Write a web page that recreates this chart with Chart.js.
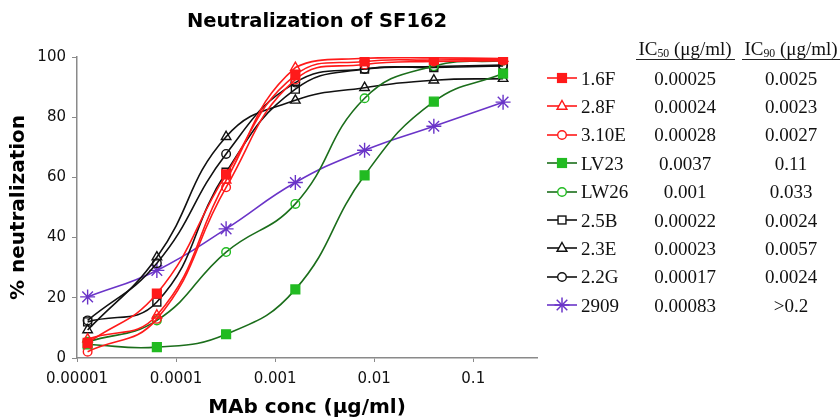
<!DOCTYPE html>
<html>
<head>
<meta charset="utf-8">
<script src="https://cdn.jsdelivr.net/npm/chart.js@4"></script>
<style>
  html, body { margin: 0; padding: 0; background: #fff; }
  #wrap { position: relative; width: 840px; height: 417px; overflow: hidden; }
  #c { position: absolute; left: 0; top: 0; }
  .title { position: absolute; left: 117px; width: 400px; text-align: center; top: 11px;
           font: bold 19.5px "DejaVu Sans", Verdana, sans-serif; line-height: 1; color: #000; white-space: nowrap; }
  .tx { position: absolute; font-family: "Liberation Serif", "Times New Roman", serif; font-size: 19px;
        line-height: 19px; height: 19px; color: #111; white-space: nowrap; }
  .cen { text-align: center; }
  .uline { position: absolute; height: 1.5px; background: #222; }
  sub { font-size: 0.62em; vertical-align: -0.15em; line-height: 0; }
</style>
</head>
<body>
<div id="wrap">
  <canvas id="c" width="634" height="417"></canvas>
  <div class="title">Neutralization of SF162</div>
  <div id="table"></div>
</div>
<script>
// ---- data ----
const concentrations = [0.0000128, 0.000064, 0.00032, 0.0016, 0.008, 0.04, 0.2];
const seriesNames = ["1.6F", "2.8F", "3.10E", "LV23", "LW26", "2.5B", "2.3E", "2.2G", "2909"];
const s16F  = [5.0, 21.4, 61.0, 94.0, 98.5, 99.0, 99.3];
const s28F  = [6.3, 14.2, 59.0, 96.5, 99.6, 99.7, 99.5];
const s310E = [2.1, 13.0, 56.7, 92.5, 97.5, 98.5, 98.8];
const sLV23 = [4.5, 3.6, 7.9, 22.8, 60.7, 85.2, 94.5];
const sLW26 = [5.4, 12.5, 35.2, 51.2, 86.3, 97.0, 98.8];
const s25B  = [12.0, 18.6, 61.7, 89.3, 96.0, 96.5, 97.0];
const s23E  = [9.3, 33.5, 73.5, 85.6, 89.8, 92.3, 92.8];
const s22G  = [12.5, 31.5, 67.8, 91.5, 96.0, 96.8, 97.3];
const s2909 = [20.3, 29.1, 42.9, 58.3, 69.0, 77.0, 85.0];
const ic50 = ["0.00025", "0.00024", "0.00028", "0.0037", "0.001", "0.00022", "0.00023", "0.00017", "0.00083"];
const ic90 = ["0.0025", "0.0023", "0.0027", "0.11", "0.033", "0.0024", "0.0057", "0.0024", ">0.2"];
const xTickValues = [0.00001, 0.0001, 0.001, 0.01, 0.1];
const xTickLabels = ["0.00001", "0.0001", "0.001", "0.01", "0.1"];
const yTickValues = [0, 20, 40, 60, 80, 100];

// ---- styles ----
const RED = "#ff1a1a", BLK = "#111111", DGREEN = "#1b6e1b", LGREEN = "#22bb22", PURP = "#6a34c8";
const styles = [
  { line: RED, mk: RED, fill: RED, shape: "rect", r: 6.2 },
  { line: RED, mk: RED, fill: "rgba(0,0,0,0)", shape: "triangle", r: 5.5 },
  { line: RED, mk: RED, fill: "rgba(0,0,0,0)", shape: "circle", r: 4.3 },
  { line: DGREEN, mk: LGREEN, fill: LGREEN, shape: "rect", r: 6.2 },
  { line: DGREEN, mk: LGREEN, fill: "rgba(0,0,0,0)", shape: "circle", r: 4.3 },
  { line: BLK, mk: BLK, fill: "rgba(0,0,0,0)", shape: "rect", r: 5.6 },
  { line: BLK, mk: BLK, fill: "rgba(0,0,0,0)", shape: "triangle", r: 5.5 },
  { line: BLK, mk: BLK, fill: "rgba(0,0,0,0)", shape: "circle", r: 4.3 },
  { line: PURP, mk: PURP, fill: PURP, shape: "star", r: 7.5 }
];
const allSeries = [s16F, s28F, s310E, sLV23, sLW26, s25B, s23E, s22G, s2909];

const datasets = allSeries.map((vals, i) => ({
  label: seriesNames[i],
  data: vals.map((v, j) => ({ x: concentrations[j], y: v })),
  borderColor: styles[i].line,
  borderWidth: 1.6,
  tension: 0.45,
  pointStyle: styles[i].shape,
  pointRadius: styles[i].r,
  pointBorderColor: styles[i].mk,
  pointBackgroundColor: styles[i].fill,
  pointBorderWidth: 1.4,
  fill: false
}));

const AX = "#8a8a8a";
new Chart(document.getElementById("c"), {
  type: "line",
  data: { datasets },
  options: {
    responsive: false,
    animation: false,
    layout: { padding: { top: 57, right: 97, left: 0, bottom: 0 } },
    plugins: { legend: { display: false }, title: { display: false }, tooltip: { enabled: false } },
    scales: {
      x: {
        type: "logarithmic",
        min: 0.00001,
        max: 0.44,
        afterBuildTicks: s => { s.ticks = xTickValues.map(v => ({ value: v })); },
        afterFit: s => { s.height = 59; },
        ticks: {
          callback: (v, i) => xTickLabels[i],
          font: { family: "DejaVu Sans", size: 15 },
          color: "#111",
          padding: 8,
          maxRotation: 0,
          autoSkip: false
        },
        grid: { drawOnChartArea: false, drawTicks: true, tickLength: 4, color: AX },
        border: { color: AX, width: 1.5 },
        title: {
          display: true,
          text: "MAb conc (μg/ml)",
          font: { family: "DejaVu Sans", size: 20, weight: "bold" },
          color: "#000",
          padding: { top: 0, bottom: -3 }
        }
      },
      y: {
        min: 0,
        max: 100,
        afterBuildTicks: s => { s.ticks = yTickValues.map(v => ({ value: v })); },
        afterFit: s => { s.width = 77; },
        ticks: {
          font: { family: "DejaVu Sans", size: 15 },
          color: "#111",
          padding: 6
        },
        grid: { drawOnChartArea: false, drawTicks: true, tickLength: 5, color: AX },
        border: { color: AX, width: 1.5 },
        title: {
          display: true,
          text: "% neutralization",
          font: { family: "DejaVu Sans", size: 20, weight: "bold" },
          color: "#000",
          padding: { top: 7, bottom: 0 }
        }
      }
    }
  }
});

// ---- table / legend ----
const table = document.getElementById("table");
function addDiv(cls, html, css) {
  const d = document.createElement("div");
  d.className = cls;
  d.innerHTML = html;
  Object.assign(d.style, css);
  table.appendChild(d);
  return d;
}
addDiv("tx cen", "IC<sub>50</sub> (μg/ml)", { left: "630px", width: "110px", top: (48 - 9.5) + "px" });
addDiv("tx cen", "IC<sub>90</sub> (μg/ml)", { left: "736px", width: "110px", top: (48 - 9.5) + "px" });
addDiv("uline", "", { left: "636px", width: "99px", top: "58.5px" });
addDiv("uline", "", { left: "742px", width: "98px", top: "58.5px" });

function markerSVG(st) {
  const cx = 15, cy = 8;
  let m = "";
  const fill = st.fill.startsWith("rgba") ? "none" : st.fill;
  if (st.shape === "rect") {
    const h = st.r * Math.SQRT1_2;
    m = `<rect x="${cx - h}" y="${cy - h}" width="${2 * h}" height="${2 * h}" fill="${fill === "none" ? "#fff" : fill}" stroke="${st.mk}" stroke-width="1.4"/>`;
  } else if (st.shape === "circle") {
    m = `<circle cx="${cx}" cy="${cy}" r="${st.r}" fill="#fff" stroke="${st.mk}" stroke-width="1.4"/>`;
  } else if (st.shape === "triangle") {
    const r = st.r;
    m = `<polygon points="${cx},${cy - r} ${cx + r * 0.9},${cy + r * 0.6} ${cx - r * 0.9},${cy + r * 0.6}" fill="#fff" stroke="${st.mk}" stroke-width="1.4"/>`;
  } else if (st.shape === "star") {
    const r = st.r, d = r * Math.SQRT1_2;
    m = `<g stroke="${st.mk}" stroke-width="1.5"><line x1="${cx - r}" y1="${cy}" x2="${cx + r}" y2="${cy}"/><line x1="${cx}" y1="${cy - r}" x2="${cx}" y2="${cy + r}"/><line x1="${cx - d}" y1="${cy - d}" x2="${cx + d}" y2="${cy + d}"/><line x1="${cx - d}" y1="${cy + d}" x2="${cx + d}" y2="${cy - d}"/></g>`;
  }
  return `<svg width="30" height="16" style="position:absolute;left:0;top:0"><line x1="0" y1="${cy}" x2="30" y2="${cy}" stroke="${st.line}" stroke-width="1.6"/>${m}</svg>`;
}

const rowY0 = 78, rowStep = 28.4;
seriesNames.forEach((name, i) => {
  const y = rowY0 + i * rowStep;
  const mk = document.createElement("div");
  mk.style.position = "absolute";
  mk.style.left = "547px";
  mk.style.top = (y - 8) + "px";
  mk.style.width = "30px";
  mk.style.height = "16px";
  mk.innerHTML = markerSVG(styles[i]);
  table.appendChild(mk);
  addDiv("tx", name, { left: "581px", top: (y - 9.5) + "px" });
  addDiv("tx cen", ic50[i], { left: "630px", width: "110px", top: (y - 9.5) + "px" });
  addDiv("tx cen", ic90[i], { left: "736px", width: "110px", top: (y - 9.5) + "px" });
});
</script>
</body>
</html>
